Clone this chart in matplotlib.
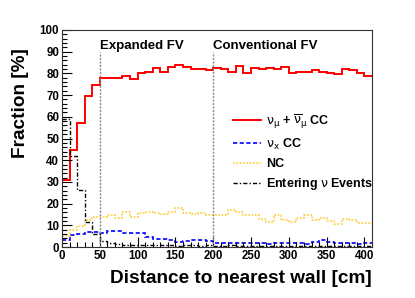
import numpy as np
import matplotlib
matplotlib.use('Agg')
import matplotlib.pyplot as plt
from matplotlib.ticker import MultipleLocator

plt.rcParams['font.family'] = ['Liberation Sans', 'DejaVu Sans']
plt.rcParams['mathtext.fontset'] = 'dejavusans'

# 10 cm bins from 0 to 410 cm
bin_edges = np.arange(0, 420, 10)

numu_cc = [31.0, 44.5, 57.3, 69.7, 74.6, 77.7, 77.8, 78.0, 78.9, 77.4,
           80.3, 80.5, 82.6, 80.8, 82.9, 83.7, 82.8, 81.9, 82.0, 81.4,
           82.6, 82.2, 80.7, 83.4, 80.3, 82.6, 82.2, 82.6, 82.2, 82.8,
           80.3, 80.7, 80.7, 81.6, 80.5, 80.1, 79.5, 82.2, 81.4, 80.3,
           78.7]
nux_cc = [3.2, 5.5, 5.8, 7.1, 6.8, 6.6, 7.4, 7.2, 6.3, 6.3,
          6.3, 4.8, 3.7, 3.7, 3.0, 2.3, 2.9, 3.2, 3.2, 2.9,
          1.7, 1.8, 1.8, 1.9, 1.9, 1.8, 1.8, 1.5, 1.9, 1.9,
          1.8, 1.8, 1.6, 2.4, 3.0, 2.4, 2.0, 1.9, 1.9, 1.2,
          2.0]
nc = [5.0, 7.8, 9.7, 12.4, 14.0, 14.0, 14.7, 13.2, 16.3, 14.0,
      15.5, 15.9, 15.5, 15.2, 16.3, 18.1, 15.5, 15.2, 15.5, 14.9,
      14.9, 14.7, 17.0, 16.1, 14.7, 14.7, 12.9, 11.7, 14.7, 12.4,
      11.7, 13.2, 14.7, 12.4, 13.5, 12.0, 10.6, 12.9, 12.4, 11.2,
      11.2]
entering = [59.0, 42.0, 26.3, 11.5, 6.0, 2.8, 1.7, 1.2, 1.0, 0.9,
            0.8, 0.8, 0.7, 0.8, 0.7, 0.6, 0.7, 0.7, 0.6, 0.7,
            0.6, 0.6, 0.7, 0.6, 0.5, 0.6, 0.6, 0.5, 0.6, 0.5,
            0.6, 0.5, 0.5, 0.6, 0.5, 0.5, 0.6, 0.5, 0.5, 0.5,
            0.6]

fv_cuts = [50, 200]
fv_names = ['Expanded FV', 'Conventional FV']

fig = plt.figure(figsize=(4.15, 2.98), dpi=100)
ax = fig.add_axes([62 / 415, 1 - 247 / 298, 310 / 415, 217 / 298])

ax.stairs(numu_cc, bin_edges, baseline=None, color='#ff0000', lw=1.4,
          label=r'$\mathrm{\nu}_{\mathrm{\mu}}$ + $\overline{\mathrm{\nu}}_{\mathrm{\mu}}$ CC')
ax.stairs(nux_cc, bin_edges, baseline=None, color='#0000ff', lw=1.2,
          ls=(0, (2.5, 1.5)), label=r'$\mathrm{\nu}_{\mathrm{x}}$ CC')
ax.stairs(nc, bin_edges, baseline=None, color='#ffcc33', lw=1.2,
          ls=(0, (1, 1)), label='NC')
ax.stairs(entering, bin_edges, baseline=None, color='black', lw=1.0,
          ls=(0, (3, 1.5, 1, 1.5)), label=r'Entering $\mathrm{\nu}$ Events')

for xc, name in zip(fv_cuts, fv_names):
    ax.plot([xc, xc], [0, 90], color='#888888', lw=1.0, ls=(0, (1.5, 1)))
    ax.text(xc, 92.5, name, fontsize=9.5, fontweight='bold', va='center', ha='left')

ax.set_xlim(0, 410)
ax.set_ylim(0, 100)
ax.xaxis.set_major_locator(MultipleLocator(50))
ax.xaxis.set_minor_locator(MultipleLocator(10))
ax.yaxis.set_major_locator(MultipleLocator(10))
ax.yaxis.set_minor_locator(MultipleLocator(2))
ax.tick_params(which='both', direction='in', top=False, right=False,
               labelsize=8.3, width=0.8)
ax.tick_params(which='major', length=7, pad=2)
ax.tick_params(which='minor', length=3.5)
for lab in ax.get_xticklabels() + ax.get_yticklabels():
    lab.set_fontweight('bold')
for sp in ax.spines.values():
    sp.set_linewidth(0.8)
    sp.set_color('#333333')

ax.legend(loc='upper left', bbox_to_anchor=(0.55, 0.62), frameon=False,
          prop={'size': 9, 'weight': 'bold'}, handlelength=2.3,
          handletextpad=0.4, labelspacing=0.5, borderaxespad=0, borderpad=0)

fig.text(372 / 415, 1 - 283 / 298, 'Distance to nearest wall [cm]',
         fontsize=13.7, fontweight='bold', ha='right', va='baseline')
fig.text(25 / 415, 1 - 48 / 298, 'Fraction [%]', fontsize=13.7,
         fontweight='bold', rotation=90, rotation_mode='anchor',
         ha='right', va='baseline')

fig.savefig('out.png', dpi=100, facecolor='white')
